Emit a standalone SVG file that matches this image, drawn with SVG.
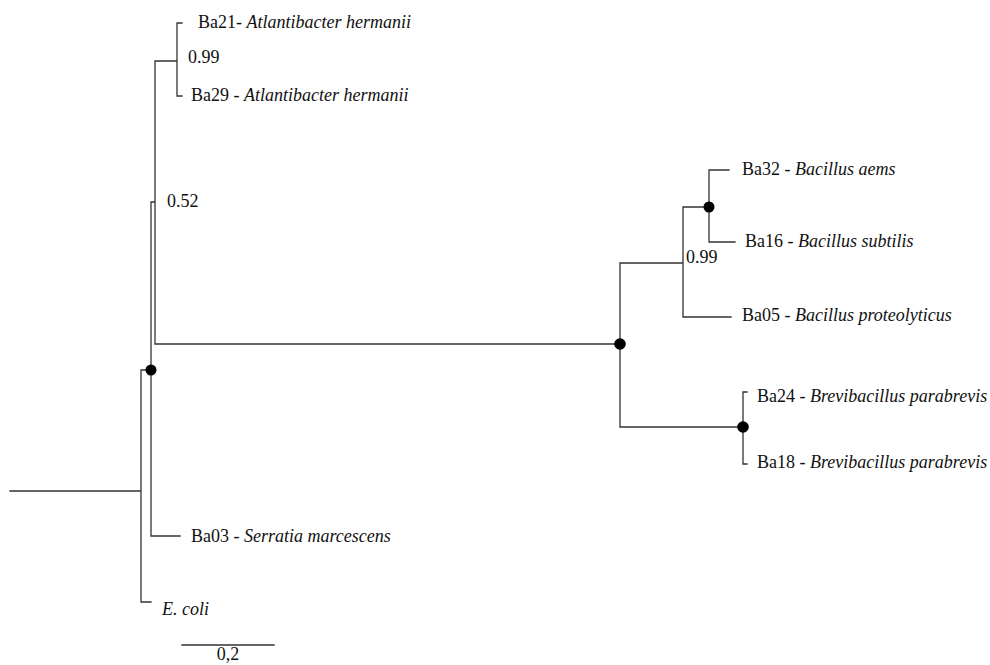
<svg xmlns="http://www.w3.org/2000/svg" width="990" height="665" viewBox="0 0 990 665" font-family="'Liberation Serif', 'Times New Roman', 'DejaVu Serif', serif">
<style>
.br{fill:none;stroke:#333;stroke-width:1.3;stroke-linecap:square}
.dot{fill:#000}
text{font-family:'Liberation Serif','Times New Roman','DejaVu Serif',serif;font-size:18px;fill:#111}
.sp{font-style:italic}
</style>
<rect width="990" height="665" fill="#fff"/>
<g id="connectors">
<path class="br" d="M10,491 H141 M141,370 V602 H151 M141,370 H151 M151,202 V536 H180 M151,202 H155 M155,61 V344 H620 M155,61 H177 M177,23 V96 M177,23 H182 M177,96 H182 M620,263 V427 M620,263 H683 M683,207 V317 H731 M683,207 H709 M709,170 V242 M709,170 H729 M709,242 H735 M620,427 H743 M743,392 V464 M743,392 H747 M743,464 H747"/>
</g>
<g id="n_root"><circle class="dot" cx="151" cy="370" r="5.5"/></g>
<g id="n_ingroup"><text x="167" y="207">0.52</text></g>
<g id="n_atl"><text x="188" y="63">0.99</text></g>
<g id="n_bac_big"><circle class="dot" cx="620" cy="344" r="5.8"/></g>
<g id="n_bac"><text x="686" y="263">0.99</text></g>
<g id="n_bac2"><circle class="dot" cx="709" cy="207" r="5.5"/></g>
<g id="n_brevi"><circle class="dot" cx="743" cy="427" r="5.8"/></g>
<g id="t_ba21"><text x="198" y="28">Ba21- <tspan class="sp">Atlantibacter hermanii</tspan></text></g>
<g id="t_ba29"><text x="191" y="101">Ba29 - <tspan class="sp">Atlantibacter hermanii</tspan></text></g>
<g id="t_ba32"><text x="742" y="175">Ba32 - <tspan class="sp">Bacillus aems</tspan></text></g>
<g id="t_ba16"><text x="745" y="247">Ba16 - <tspan class="sp">Bacillus subtilis</tspan></text></g>
<g id="t_ba05"><text x="742" y="321">Ba05 - <tspan class="sp">Bacillus proteolyticus</tspan></text></g>
<g id="t_ba24"><text x="757" y="402">Ba24 - <tspan class="sp">Brevibacillus parabrevis</tspan></text></g>
<g id="t_ba18"><text x="757" y="468">Ba18 - <tspan class="sp">Brevibacillus parabrevis</tspan></text></g>
<g id="t_ba03"><text x="191" y="542">Ba03 - <tspan class="sp">Serratia marcescens</tspan></text></g>
<g id="t_ecoli"><text x="162" y="615" class="sp">E. coli</text></g>
<g id="scale">
<path class="br" d="M182,645 H274"/>
<text x="228" y="660" text-anchor="middle">0,2</text>
</g>
</svg>
